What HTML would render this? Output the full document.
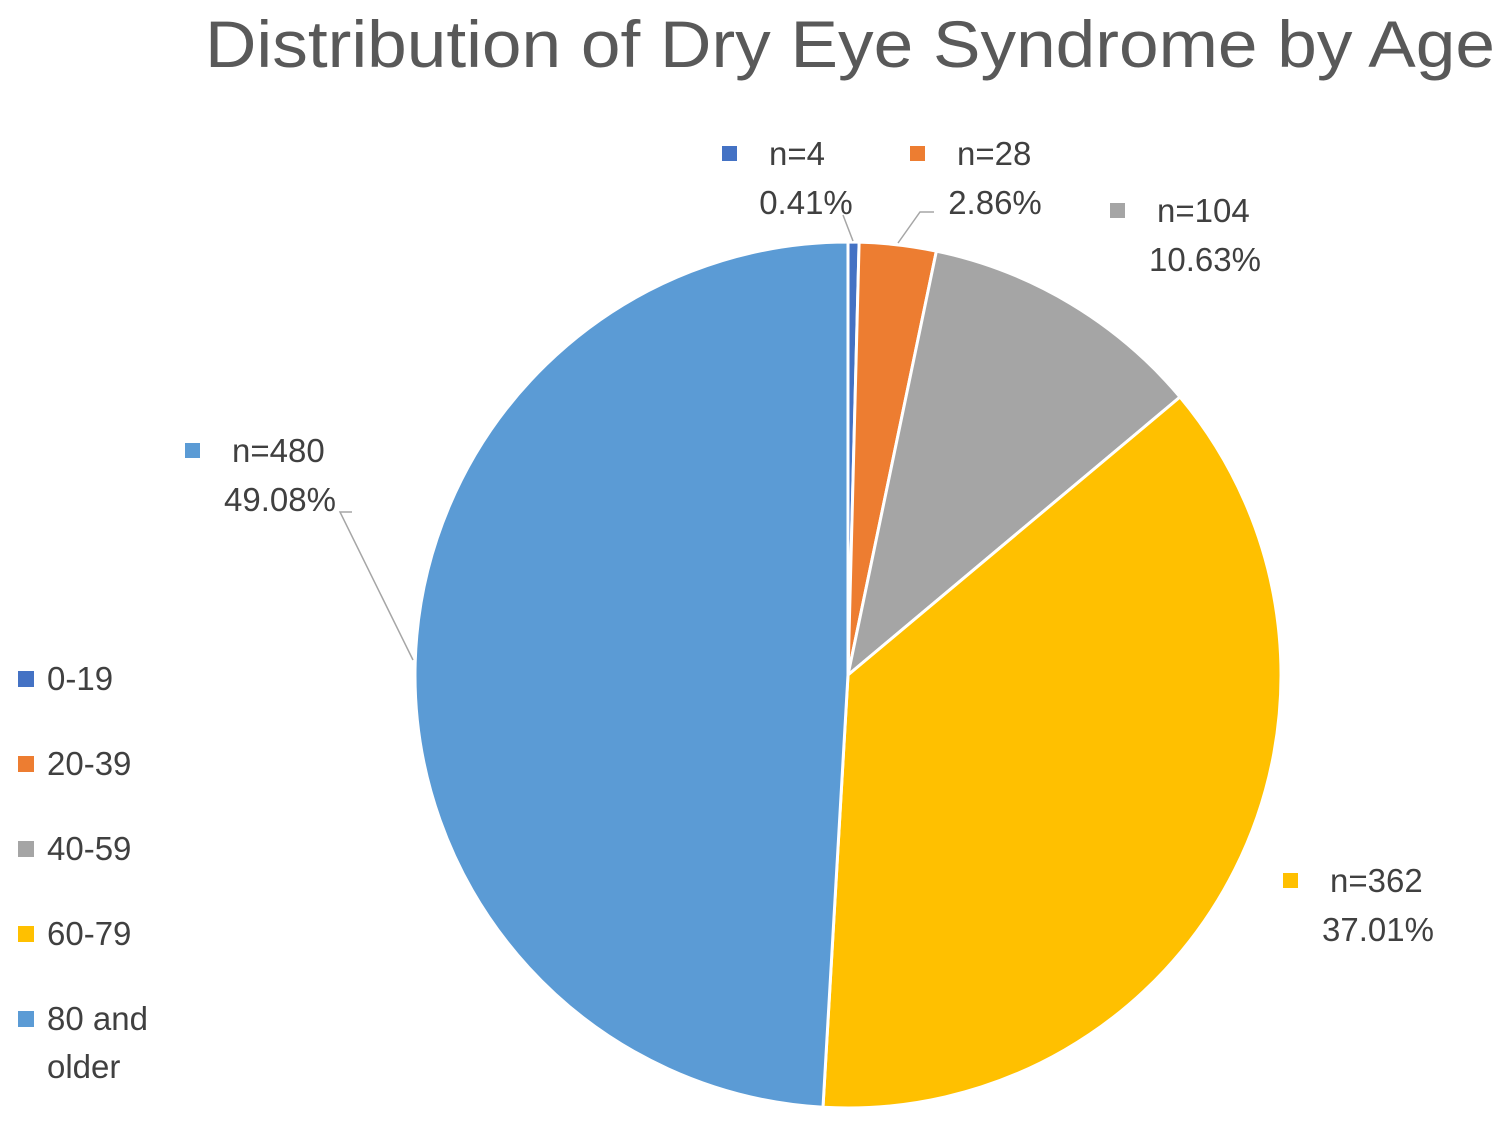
<!DOCTYPE html>
<html><head><meta charset="utf-8"><style>
body{margin:0;background:#fff;}
svg{display:block;font-family:"Liberation Sans",sans-serif;}
</style></head><body>
<svg id="chart" width="1500" height="1127" viewBox="0 0 1500 1127">
<text x="205" y="67" font-size="66" fill="#595959" textLength="1290" lengthAdjust="spacingAndGlyphs">Distribution of Dry Eye Syndrome by Age</text>
<g id="slices"></g>
<g id="leaders" stroke="#a6a6a6" stroke-width="1.5" fill="none">
<polyline points="843,215 853,241"/>
<polyline points="934,212 920,212 898,243"/>
<polyline points="352,512 340,512 413,660"/>
</g>
<g id="labels" font-size="33" fill="#404040"></g>
<g id="legend" font-size="33" fill="#404040"></g>
</svg>
<script>
const categories=["0-19","20-39","40-59","60-79","80 and older"];
const counts=[4,28,104,362,480];
const percents=["0.41%","2.86%","10.63%","37.01%","49.08%"];
const colors=["#4472c4","#ed7d31","#a5a5a5","#ffc000","#5b9bd5"];
const NS="http://www.w3.org/2000/svg";
const cx=848,cy=675,r=433;
const total=counts.reduce((a,b)=>a+b,0);
function pt(a,rr){return [cx+rr*Math.sin(a),cy-rr*Math.cos(a)];}
const sg=document.getElementById('slices');
let a0=0;
counts.forEach((v,i)=>{
  const a1=a0+v/total*2*Math.PI;
  const p0=pt(a0,r),p1=pt(a1,r);
  const large=(a1-a0)>Math.PI?1:0;
  const p=document.createElementNS(NS,'path');
  p.setAttribute('d',`M${cx},${cy} L${p0[0]},${p0[1]} A${r},${r} 0 ${large} 1 ${p1[0]},${p1[1]} Z`);
  p.setAttribute('fill',colors[i]);
  p.setAttribute('stroke','#fff');
  p.setAttribute('stroke-width','3');
  
  
  sg.appendChild(p);
  a0=a1;
});
// label layout: [percent centre x, baseline y, marker x]
const labelPos=[[806,165,722],[995,165,910],[1205,222,1110],[1378,892,1283],[280,462,185]];
const lg=document.getElementById('labels');
counts.forEach((v,i)=>{
  const [x,y,mx]=labelPos[i];
  const g=document.createElementNS(NS,'g');
  
  
  const m=document.createElementNS(NS,'rect');
  m.setAttribute('x',mx);m.setAttribute('y',y-19);
  m.setAttribute('width',15);m.setAttribute('height',15);
  m.setAttribute('fill',colors[i]);
  g.appendChild(m);
  const t1=document.createElementNS(NS,'text');
  t1.setAttribute('x',mx+47);
  t1.setAttribute('y',y);
  t1.textContent='n='+v;
  g.appendChild(t1);
  const t2=document.createElementNS(NS,'text');
  t2.setAttribute('x',x);t2.setAttribute('y',y+49);t2.setAttribute('text-anchor','middle');
  t2.textContent=percents[i];
  g.appendChild(t2);
  lg.appendChild(g);
});
const leg=document.getElementById('legend');
const legY=[690,775,860,945,1030];
categories.forEach((c,i)=>{
  const g=document.createElementNS(NS,'g');
  
  
  const m=document.createElementNS(NS,'rect');
  m.setAttribute('x',18);m.setAttribute('y',legY[i]-19);
  m.setAttribute('width',16);m.setAttribute('height',16);
  m.setAttribute('fill',colors[i]);
  g.appendChild(m);
  const words=c==="80 and older"?["80 and","older"]:[c];
  words.forEach((w,k)=>{
    const t=document.createElementNS(NS,'text');
    t.setAttribute('x',47);t.setAttribute('y',legY[i]+k*48);
    t.textContent=w;g.appendChild(t);
  });
  leg.appendChild(g);
});
</script>
</body></html>
